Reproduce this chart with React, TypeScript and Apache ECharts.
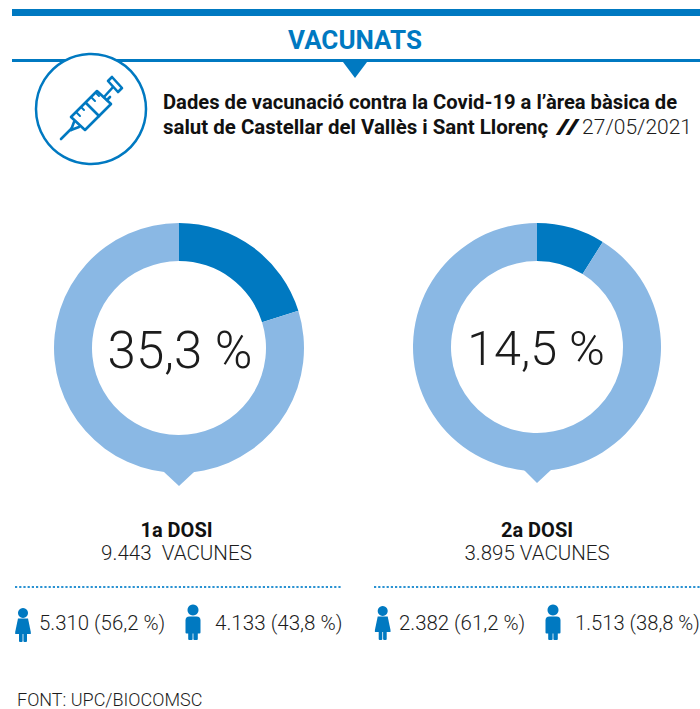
import React, { useEffect, useRef } from "react";
import * as echarts from "echarts";

const BLUE = "#0079c1";
const LIGHT = "#8ab8e4";
const INK = "#1c1c1c";
const SANS = "Roboto, sans-serif";

const title = "VACUNATS";
const subtitleLine1 = "Dades de vacunació contra la Covid-19 a l’àrea bàsica de";
const subtitleLine2 = "salut de Castellar del Vallès i Sant Llorenç";
const subtitleSlashes = "//";
const subtitleDate = "27/05/2021";
const doseNames = ["1a DOSI", "2a DOSI"];
const doseTotals = ["9.443  VACUNES", "3.895 VACUNES"];
const centerLabels = ["35,3 %", "14,5 %"];
const darkArc = [20.2, 8.9];
const lightArc = [79.8, 91.1];
const womenLabels = ["5.310 (56,2 %)", "2.382 (61,2 %)"];
const menLabels = ["4.133 (43,8 %)", "1.513 (38,8 %)"];
const source = "FONT: UPC/BIOCOMSC";

const rings = [
  { cx: 179, cy: 348, r: 125, inner: 87 },
  { cx: 537, cy: 347, r: 124, inner: 86 },
];

function person(kind: "f" | "m", x: number, headY: number, z = 5) {
  const fill = { fill: BLUE };
  const parts: any[] = [];
  if (kind === "f") {
    parts.push({ type: "circle", shape: { cx: x, cy: headY, r: 5 }, style: fill, z });
    parts.push({
      type: "polygon",
      shape: { points: [[x - 5, headY + 5.5], [x + 5, headY + 5.5], [x + 7.8, headY + 19], [x + 7.8, headY + 21], [x - 7.8, headY + 21], [x - 7.8, headY + 19]] },
      style: fill, z,
    });
    parts.push({ type: "rect", shape: { x: x - 4, y: headY + 20, width: 3.6, height: 9, r: 1 }, style: fill, z });
    parts.push({ type: "rect", shape: { x: x + 0.4, y: headY + 20, width: 3.6, height: 9, r: 1 }, style: fill, z });
  } else {
    parts.push({ type: "circle", shape: { cx: x, cy: headY, r: 5.5 }, style: fill, z });
    parts.push({ type: "rect", shape: { x: x - 7.5, y: headY + 6.5, width: 15, height: 17, r: [4, 4, 1, 1] }, style: fill, z });
    parts.push({ type: "rect", shape: { x: x - 4.8, y: headY + 20, width: 4.4, height: 10, r: 1 }, style: fill, z });
    parts.push({ type: "rect", shape: { x: x + 0.4, y: headY + 20, width: 4.4, height: 10, r: 1 }, style: fill, z });
  }
  return parts;
}

function seg(x1: number, y1: number, x2: number, y2: number, w = 2.6) {
  return {
    type: "line",
    shape: { x1, y1, x2, y2 },
    style: { stroke: BLUE, lineWidth: w, lineCap: "round" },
    z: 5,
  };
}

function syringe() {
  const line = { stroke: BLUE, lineWidth: 2.6, fill: "#fff", lineJoin: "round" };
  return [
    seg(72, 128, 61, 139),
    { type: "polygon", shape: { points: [[71, 117], [97, 91], [111, 104], [85, 130]] }, style: line, z: 5 },
    seg(86, 103, 99, 116),
    seg(76, 112, 80, 116, 2),
    seg(81, 107, 84, 110, 2),
    seg(91, 97, 95, 101, 2),
    seg(96, 93, 99, 96, 2),
    seg(74, 122, 71, 130),
    seg(71, 130, 79, 127),
    seg(104, 97, 114, 86),
    seg(107, 100, 110, 97),
    {
      type: "polygon",
      shape: { points: [[112, 77], [122, 88], [118, 92], [108, 81]] },
      style: line, z: 5,
    },
  ];
}

function text(str: string, x: number, y: number, size: number, opts: any = {}) {
  return {
    type: "text",
    x, y,
    scaleX: opts.scaleX ?? 1,
    style: {
      text: str,
      fill: opts.fill ?? INK,
      font: `${opts.weight ?? 300} ${size}px ${opts.family ?? SANS}`,
      textAlign: opts.align ?? "left",
      textVerticalAlign: "middle",
    },
    z: 6,
  };
}

function dotted(x1: number, x2: number, y: number) {
  return {
    type: "line",
    shape: { x1, y1: y, x2, y2: y },
    style: { stroke: "#2a92d2", lineWidth: 2.2, lineDash: [2.2, 2] },
    z: 3,
  };
}

export default function App() {
  const ref = useRef<HTMLDivElement>(null);
  useEffect(() => {
    document.body.style.margin = "0";
    const chart = echarts.init(ref.current!, null, { renderer: "svg" });
    const series = rings.map((g, i) => ({
      type: "pie",
      center: [g.cx, g.cy],
      radius: [g.inner, g.r],
      startAngle: 90,
      clockwise: true,
      silent: true,
      label: { show: false },
      labelLine: { show: false },
      data: [
        { value: darkArc[i], name: "dark", itemStyle: { color: BLUE } },
        { value: lightArc[i], name: "light", itemStyle: { color: LIGHT } },
      ],
    }));
    const graphic: any[] = [
      { type: "rect", shape: { x: 12, y: 9, width: 688, height: 7 }, style: { fill: BLUE }, z: 1 },
      { type: "rect", shape: { x: 12, y: 59, width: 688, height: 3 }, style: { fill: BLUE }, z: 1 },
      { type: "polygon", shape: { points: [[343, 62], [367, 62], [355, 78]] }, style: { fill: BLUE }, z: 1 },
      text(title, 355, 40, 26, { weight: 700, fill: BLUE, align: "center" }),
      { type: "circle", shape: { cx: 91, cy: 109, r: 55 }, style: { fill: "#fff", stroke: BLUE, lineWidth: 2.5 }, z: 2 },
      ...syringe(),
      text(subtitleLine1, 163, 102, 20.2, { weight: 700, fill: "#111" }),
      text(subtitleLine2, 163, 127, 20.45, { weight: 700, fill: "#111" }),
      text(subtitleSlashes, 556, 127, 20.4, { weight: 700, fill: "#111", scaleX: 1.9 }),
      text(subtitleDate, 692, 127, 21, { weight: 300, align: "right" }),
      { type: "polygon", shape: { points: [[164, 472], [194, 472], [179, 486]] }, style: { fill: LIGHT }, z: 1 },
      { type: "polygon", shape: { points: [[523, 469], [552, 469], [537, 483]] }, style: { fill: LIGHT }, z: 1 },
      text(centerLabels[0], 180, 350, 51, { align: "center" }),
      text(centerLabels[1], 536, 348, 48.5, { align: "center" }),
      text(doseNames[0], 176.5, 530, 20, { weight: 700, align: "center", fill: "#111" }),
      text(doseNames[1], 537, 530, 20, { weight: 700, align: "center", fill: "#111" }),
      text(doseTotals[0], 176.5, 553, 20.6, { align: "center" }),
      text(doseTotals[1], 537, 553, 20.5, { align: "center" }),
      dotted(15, 342, 587),
      dotted(374, 700, 587),
      ...person("f", 23, 613),
      ...person("m", 193, 610),
      ...person("f", 382.7, 611),
      ...person("m", 553, 610),
      text(womenLabels[0], 39, 623, 20.4),
      text(menLabels[0], 215, 623, 20.6),
      text(womenLabels[1], 399, 623, 20.4),
      text(menLabels[1], 575, 623, 20.2),
      text(source, 17, 699, 18),
    ];
    chart.setOption({
      animation: false,
      backgroundColor: "#fff",
      series,
      graphic: { elements: graphic },
    });
    return () => chart.dispose();
  }, []);
  return <div ref={ref} style={{ width: 700, height: 709 }} />;
}
